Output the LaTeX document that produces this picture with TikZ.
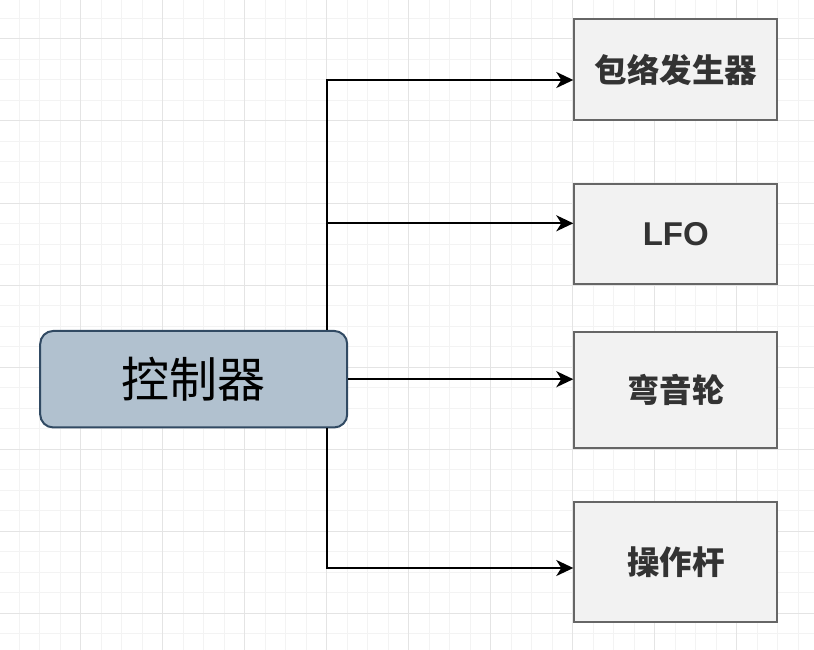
\documentclass[tikz,border=0pt]{standalone}
\usepackage{fontspec}
\setmainfont{Liberation Sans}
\newfontfamily\cjk{Noto Sans CJK SC}
\usetikzlibrary{arrows.meta}
\definecolor{gridminor}{HTML}{F3F3F3}
\definecolor{gridmajor}{HTML}{E4E4E4}
\definecolor{ctrlfill}{HTML}{B1C1CF}
\definecolor{ctrlline}{HTML}{314A63}
\definecolor{boxfill}{HTML}{F2F2F2}
\definecolor{boxline}{HTML}{666666}
\definecolor{boxtext}{HTML}{333333}
\tikzset{
  ctrlbox/.style={draw=ctrlline, fill=ctrlfill, line width=2pt, rounded corners=13pt,
    minimum width=307pt, minimum height=96.5pt, inner sep=0pt,
    font=\cjk\fontsize{48}{56}\selectfont, text=black},
  outbox/.style={draw=boxline, fill=boxfill, line width=2pt,
    minimum width=203pt, inner sep=0pt, text=boxtext},
  cjklabel/.style={font=\cjk\bfseries\fontsize{32.5}{38}\selectfont},
  latlabel/.style={font=\bfseries\fontsize{33}{38}\selectfont},
  arr/.style={draw=black, line width=2pt, -{Stealth[length=17pt, width=16pt, inset=5pt]}},
}
\begin{document}
\begin{tikzpicture}[x=1pt, y=-1pt]
\useasboundingbox (0,0) rectangle (814,650);
\fill[white] (0,0) rectangle (814,650);
% grid
\foreach \k in {0,...,40} {
  \draw[gridminor, line width=1pt] ({-1.3+20.5*\k},0) -- ({-1.3+20.5*\k},650);
}
\foreach \k in {0,...,32} {
  \draw[gridminor, line width=1pt] (0,{-2+20.5*\k}) -- (814,{-2+20.5*\k});
}
\foreach \k in {0,...,10} {
  \draw[gridmajor, line width=1pt] ({-1.3+82*\k},0) -- ({-1.3+82*\k},650);
}
\foreach \k in {0,...,7} {
  \draw[gridmajor, line width=1pt] (0,{39+82*\k}) -- (814,{39+82*\k});
}
% nodes
\node[ctrlbox] (ctrl) at (193.7,379.2) {控制器};
\node[outbox, minimum height=100.4pt, cjklabel] (b1) at (675.8,69.5) {包络发生器};
\node[outbox, minimum height=100.3pt, latlabel] (b2) at (675.8,233.8) {LFO};
\node[outbox, minimum height=116.3pt, cjklabel] (b3) at (675.8,389.9) {弯音轮};
\node[outbox, minimum height=120.6pt, cjklabel] (b4) at (675.8,562) {操作杆};
% junction x
\coordinate (jx) at (327,0);
% connectors
\draw[arr] (ctrl.north -| jx) |- ([yshift=-10.5pt]b1.west);
\draw[arr] (ctrl.north -| jx) |- ([yshift=10.5pt]b2.west);
\draw[arr] (ctrl.east) -- (ctrl.east -| b3.west);
\draw[arr] (ctrl.south -| jx) |- ([yshift=-6pt]b4.west);
\end{tikzpicture}
\end{document}
